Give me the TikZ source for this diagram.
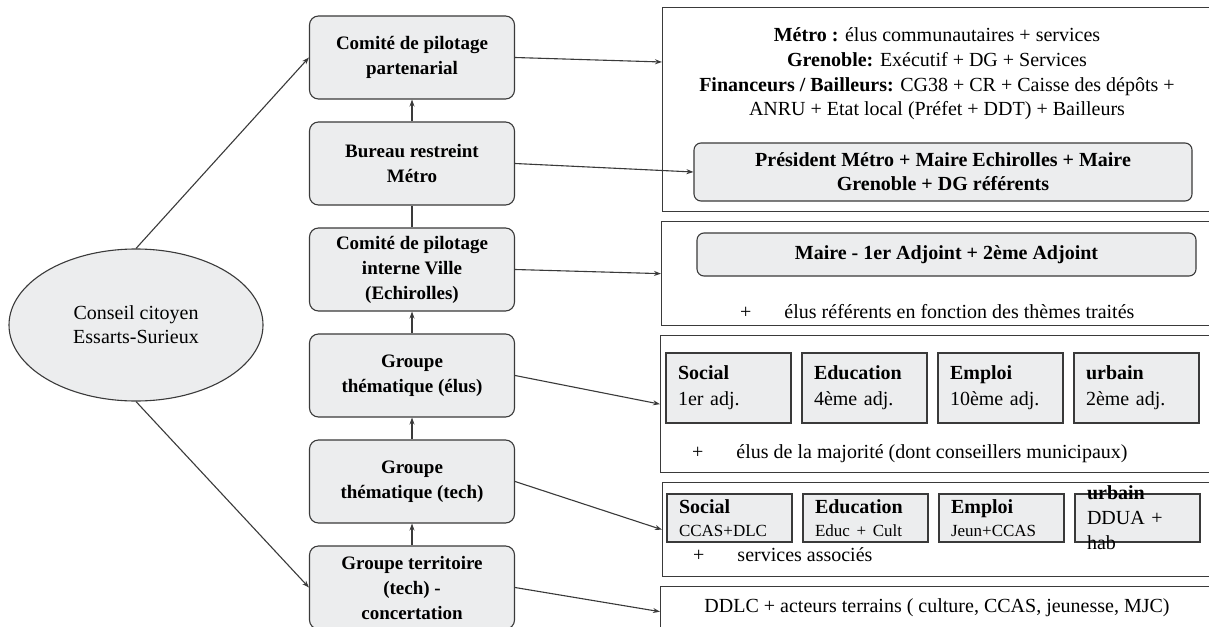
\documentclass[tikz,border=0pt]{standalone}
\usepackage{fontspec}
\setmainfont{Liberation Serif}
\usetikzlibrary{positioning,shapes.geometric,arrows.meta}

\definecolor{boxgray}{HTML}{ECEDEE}
\definecolor{linegray}{HTML}{3A3A3A}

\begin{document}
\begin{tikzpicture}[x=1pt, y=-1pt, node distance=106pt,
    >={Stealth[length=7pt,width=5pt]},
    link/.style={->, draw=linegray, line width=1.1pt},
    levelbox/.style={draw=linegray, line width=1.1pt, rounded corners=9pt, fill=boxgray, minimum width=205pt, minimum height=83pt, align=center, inner sep=2pt, font=\bfseries\fontsize{19}{25}\selectfont},
    groupframe/.style={draw=linegray, line width=1.3pt, anchor=north west, minimum width=560pt, inner sep=0pt},
    memberbox/.style={draw=linegray, line width=1.1pt, rounded corners=7pt, fill=boxgray, align=center, font=\bfseries\fontsize{20}{24}\selectfont},
    themebox/.style={draw=linegray, line width=1.1pt, fill=boxgray, minimum width=125pt, text width=101pt, inner xsep=12pt, inner ysep=2pt, align=left, font=\fontsize{20}{26}\selectfont},
    plaintext/.style={inner sep=0pt, font=\fontsize{20}{24.7}\selectfont}]
    \useasboundingbox (0,0) rectangle (1209,626);
    \clip (0,0) rectangle (1209,626);
    \fill[white] (0,0) rectangle (1209,626);

    % left column
    \node[levelbox] (copart) at (412,57.5) {Comité de pilotage\\partenarial};
    \node[levelbox, below of=copart] (bureau) {Bureau restreint\\Métro};
    \node[levelbox, below of=bureau] (cpville) {Comité de pilotage\\interne Ville\\(Echirolles)};
    \node[levelbox, below of=cpville] (gtelus) {Groupe\\thématique (élus)};
    \node[levelbox, below of=gtelus] (gttech) {Groupe\\thématique (tech)};
    \node[levelbox, below of=gttech] (gterr) {Groupe territoire\\(tech) -\\concertation};

    \node[ellipse, draw=linegray, line width=1.1pt, fill=boxgray, minimum width=254pt, minimum height=152pt, align=center, font=\fontsize{20}{24}\selectfont] (conseil) at (136,325) {Conseil citoyen\\Essarts-Surieux};

    % right column
    \node[groupframe, minimum height=204pt] (rbcopil) at (662,7) {};
    \node[groupframe, minimum height=104pt] (rbville) at (661,221) {};
    \node[groupframe, minimum height=137pt] (rbelus) at (660,335) {};
    \node[groupframe, minimum height=94pt] (rbtech) at (662,482) {};
    \node[groupframe, minimum height=50pt] (rbterr) at (660,586) {};

    \node[plaintext, align=center] (copartmembers) at (937,74) {\textbf{Métro :} élus communautaires + services\\\textbf{Grenoble:} Exécutif + DG + Services\\\textbf{Financeurs / Bailleurs:} CG38 + CR + Caisse des dépôts +\\ANRU + Etat local (Préfet + DDT) + Bailleurs};
    \node[memberbox, minimum width=498pt, minimum height=58pt] (prez) at (943,172) {Président Métro + Maire Echirolles + Maire\\Grenoble + DG référents};

    \node[memberbox, minimum width=499pt, minimum height=43pt] (maire) at (946.5,254.5) {Maire - 1er Adjoint + 2ème Adjoint};
    \node[plaintext, anchor=west] (villeplus) at (740,312) {+\hspace{33pt}élus référents en fonction des thèmes traités};

    \node[themebox, minimum height=70pt] (socelus) at (728.5,388) {\textbf{Social}\\1er adj.};
    \node[themebox, minimum height=70pt, right of=socelus, xshift=30pt] (educelus) {\textbf{Education}\\4ème adj.};
    \node[themebox, minimum height=70pt, right of=educelus, xshift=30pt] (empelus) {\textbf{Emploi}\\10ème adj.};
    \node[themebox, minimum height=70pt, right of=empelus, xshift=30pt] (urbelus) {\textbf{urbain}\\2ème adj.};
    \node[plaintext, anchor=west] (eluplus) at (692,454) {+\hspace{33pt}élus de la majorité (dont conseillers municipaux)};

    \node[themebox, minimum height=48pt, font=\fontsize{20}{23}\selectfont] (soctech) at (729.5,518) {\textbf{Social}\\{\fontsize{17}{23}\selectfont CCAS+DLC}};
    \node[themebox, minimum height=48pt, font=\fontsize{20}{23}\selectfont, right of=soctech, xshift=30pt] (eductech) {\textbf{Education}\\{\fontsize{17}{23}\selectfont Educ + Cult}};
    \node[themebox, minimum height=48pt, font=\fontsize{20}{23}\selectfont, right of=eductech, xshift=30pt] (emptech) {\textbf{Emploi}\\{\fontsize{17}{23}\selectfont Jeun+CCAS}};
    \node[themebox, minimum height=48pt, right of=emptech, xshift=30pt] (urbtech) {};
    \node[text width=101pt, inner sep=0pt, align=left, font=\fontsize{20}{25}\selectfont] (urbtechtext) at (urbtech) {\textbf{urbain}\\DDUA +\\hab};
    \node[plaintext, anchor=west] (techplus) at (693,555) {+\hspace{33pt}services associés};

    \node[plaintext] (terrmembers) at (937,608) {DDLC + acteurs terrains ( culture, CCAS, jeunesse, MJC)};

    % connectors
    \draw[link] (conseil.north) -- (copart.west);
    \draw[link] (conseil.south) -- (gterr.west);
    \draw[link] (bureau) -- (copart);
    \draw[draw=linegray, line width=1.1pt] (cpville) -- (bureau);
    \draw[link] (gtelus) -- (cpville);
    \draw[link] (gttech) -- (gtelus);
    \draw[link] (gterr) -- (gttech);
    \draw[link] (copart.east) -- ([yshift=-55pt]rbcopil.north west);
    \draw[link] (bureau.east) -- (prez.west);
    \draw[link] (cpville.east) -- (rbville.west);
    \draw[link] (gtelus.east) -- (rbelus.west);
    \draw[link] (gttech.east) -- (rbtech.west);
    \draw[link] (gterr.east) -- (rbterr.west);
\end{tikzpicture}
\end{document}
